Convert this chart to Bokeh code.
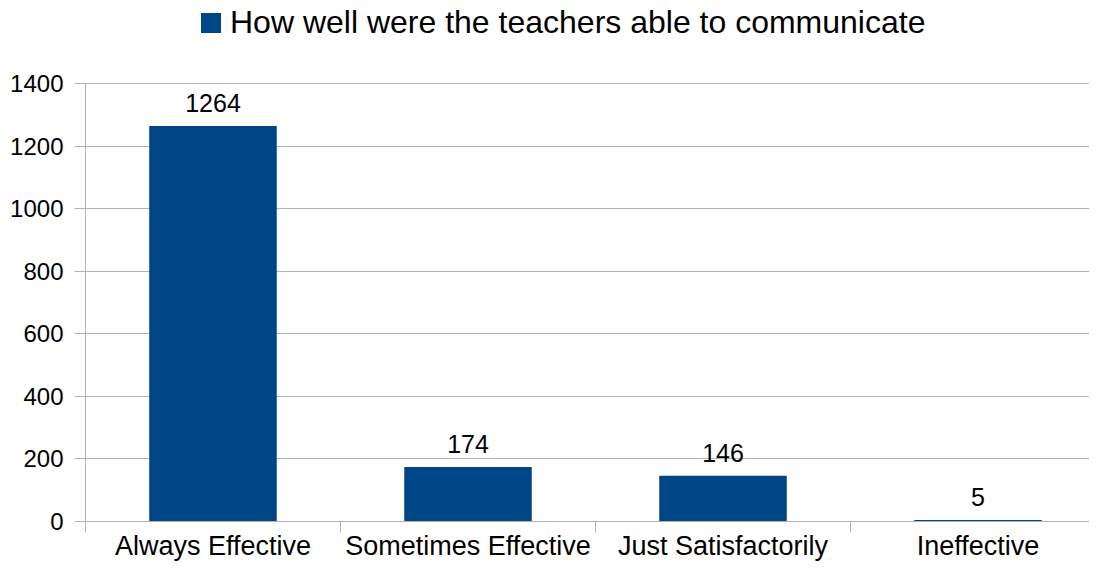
from bokeh.plotting import figure
from bokeh.models import (ColumnDataSource, Range1d, FixedTicker, LabelSet,
                          Legend, LegendItem)
from bokeh.core.properties import value
from bokeh.embed import file_html
from bokeh.resources import INLINE

categories = ["Always Effective", "Sometimes Effective", "Just Satisfactorily", "Ineffective"]
counts = [1264, 174, 146, 5]
series_name = "How well were the teachers able to communicate"
y_ticks = [0, 200, 400, 600, 800, 1000, 1200, 1400]

FONT = "Liberation Sans"
BAR = "#004586"
GRID = "#b3b3b3"

xs = [i + 0.5 for i in range(len(categories))]
src = ColumnDataSource(dict(x=xs, y=counts, lbl=[str(c) for c in counts]))

W, H = 1089, 564
left, bottom = 85, 43
axis_top_px = 83                      # pixel row of the highest tick
frame_w = W - left
frame_h = H - bottom
cat_px = 255.0
y_max = y_ticks[-1]
px_per_unit = (frame_h - axis_top_px) / y_max
y_end = frame_h / px_per_unit         # frame reaches the top edge; room for legend

p = figure(width=W, height=H, output_backend="svg", toolbar_location=None,
           x_range=Range1d(0, frame_w / cat_px), y_range=Range1d(0, y_end),
           min_border_left=left, min_border_right=0, min_border_top=0,
           min_border_bottom=bottom)
p.outline_line_color = None
p.background_fill_color = "white"
p.border_fill_color = "white"

r = p.vbar(x="x", top="y", width=0.5, source=src, fill_color=BAR, line_color=None)

# y axis
ya = p.yaxis[0]
ya.ticker = FixedTicker(ticks=y_ticks)
ya.bounds = (0, y_max)
ya.axis_line_color = GRID
ya.major_tick_line_color = GRID
ya.major_tick_out = 11
ya.major_tick_in = 0
ya.minor_tick_line_color = None
ya.major_label_text_font = FONT
ya.major_label_text_font_size = "24px"
ya.major_label_text_color = "black"
ya.major_label_standoff = 11

# x axis: labels at category centres, tick marks at category boundaries
xa = p.xaxis[0]
xa.ticker = FixedTicker(ticks=xs, minor_ticks=list(range(len(categories) + 1)))
xa.major_label_overrides = {x: c for x, c in zip(xs, categories)}
xa.axis_line_color = GRID
xa.major_tick_line_color = None
xa.major_tick_out = 0
xa.major_tick_in = 0
xa.minor_tick_line_color = GRID
xa.minor_tick_out = 11
xa.minor_tick_in = 0
xa.major_label_text_font = FONT
xa.major_label_text_font_size = "27px"
xa.major_label_text_color = "black"
xa.major_label_standoff = -2

p.xgrid.grid_line_color = None
p.ygrid.grid_line_color = GRID
p.ygrid.ticker = FixedTicker(ticks=y_ticks)

labels = LabelSet(x="x", y="y", text="lbl", source=src, y_offset=14,
                  text_align="center", text_baseline="alphabetic",
                  text_font=value(FONT), text_font_size="25px", text_color="black")
p.add_layout(labels)

legend = Legend(items=[LegendItem(label=series_name, renderers=[r])],
                location=(113, 480), orientation="horizontal",
                glyph_width=25, glyph_height=25, label_standoff=7,
                label_text_font=FONT, label_text_font_size="32px",
                label_text_color="black", padding=0, margin=0, spacing=0,
                border_line_color=None, background_fill_alpha=0)
p.add_layout(legend)

open("out.html", "w").write(file_html(p, INLINE))
